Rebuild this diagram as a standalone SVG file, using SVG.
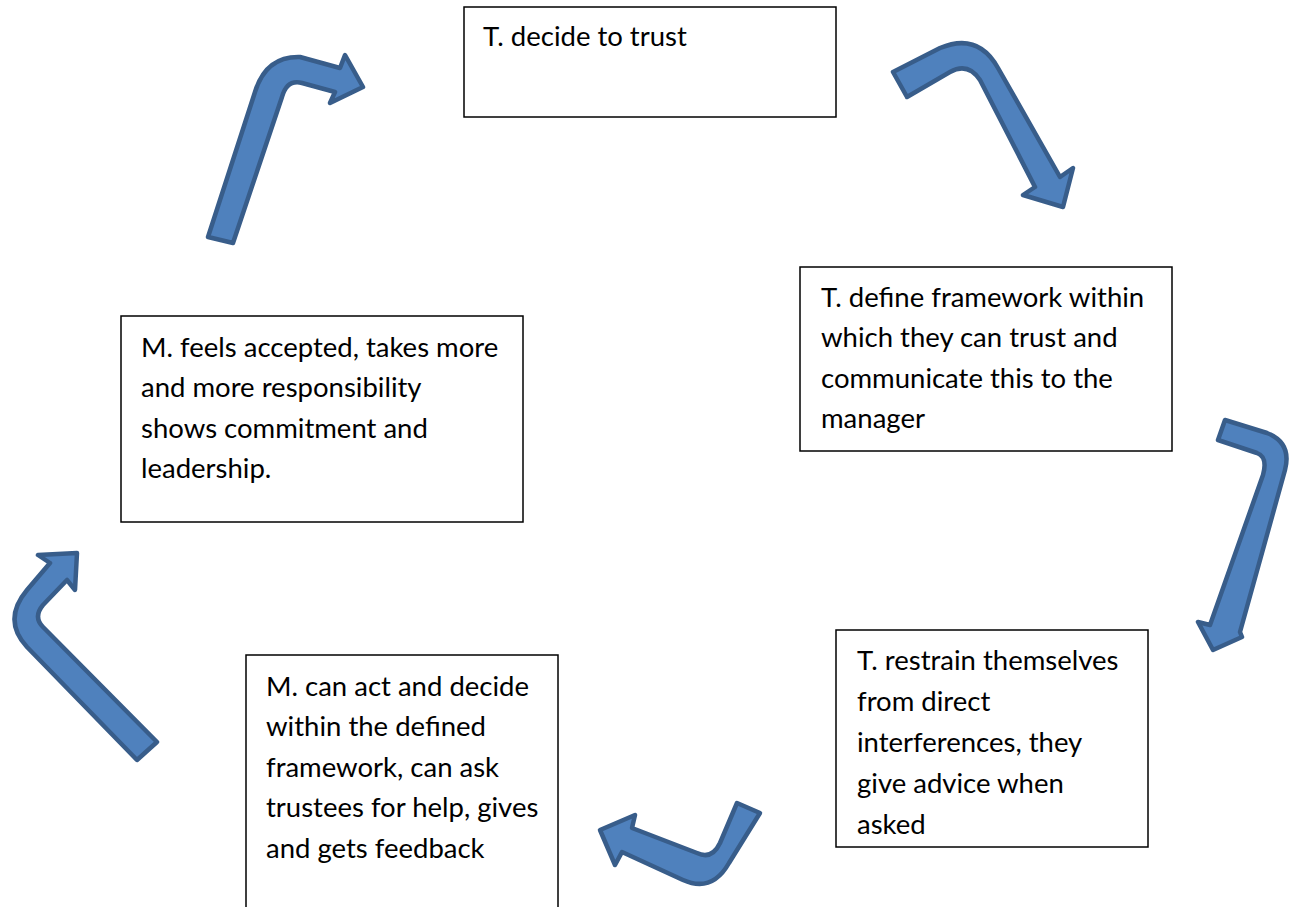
<svg xmlns="http://www.w3.org/2000/svg" width="1291" height="907" viewBox="0 0 1291 907">
<style>
.box{fill:#fff;stroke:#000;stroke-width:1.5}
.t{font-family:Lato,"Open Sans","Liberation Sans",sans-serif;font-size:27.5px;fill:#000}
.arr{fill:#4F81BD;stroke:#385D8A;stroke-width:4.5;stroke-linejoin:round}
</style>
<rect width="1291" height="907" fill="#fff"/>
<g id="connectors">
<path class="arr" d="M208,237 L255,92 Q266,56 300,57 L340,68 L345,55 L363,87 L330,103 L335,92 L302,83 Q287,79 282,97 L233,243 Z"/>
<path class="arr" d="M893,72 L940,48 Q978,32 998,68 L1060,177 L1073,168 L1063,207 L1023,195 L1035,187 L980,80 Q968,62 950,72 L907,97 Z"/>
<path class="arr" d="M1225,420 L1267,433 Q1292,443 1285,470 L1240,632 L1242,637 L1213,650 L1198,622 L1210,625 L1263,475 Q1268,457 1257,453 L1218,440 Z"/>
<path class="arr" d="M760,813 L729,863 Q712,893 683,880 L622,852 L615,865 L600,830 L635,815 L632,828 L697,853 Q712,860 720,843 L737,803 Z"/>
<path class="arr" d="M137,760 L27,647 Q2,620 27,590 L50,563 L38,555 L77,553 L75,590 L67,580 L43,605 Q33,617 43,627 L157,742 Z"/>
</g>
<g id="n1"><rect class="box" x="464" y="7" width="372" height="110"/><text class="t" x="483" y="46">T. decide to trust</text></g>
<g id="n2"><rect class="box" x="800" y="267" width="372" height="184"/>
<text class="t" x="821" y="307">T. define framework within</text>
<text class="t" x="821" y="347">which they can trust and</text>
<text class="t" x="821" y="388">communicate this to the</text>
<text class="t" x="821" y="428">manager</text></g>
<g id="n3"><rect class="box" x="836" y="630" width="312" height="217"/>
<text class="t" x="857" y="670">T. restrain themselves</text>
<text class="t" x="857" y="711">from direct</text>
<text class="t" x="857" y="752">interferences, they</text>
<text class="t" x="857" y="793">give advice when</text>
<text class="t" x="857" y="834">asked</text></g>
<g id="n4"><rect class="box" x="246" y="655" width="312" height="260"/>
<text class="t" x="266" y="696">M. can act and decide</text>
<text class="t" x="266" y="736">within the defined</text>
<text class="t" x="266" y="777">framework, can ask</text>
<text class="t" x="266" y="817">trustees for help, gives</text>
<text class="t" x="266" y="858">and gets feedback</text></g>
<g id="n5"><rect class="box" x="121" y="316" width="402" height="206"/>
<text class="t" x="141" y="357">M. feels accepted, takes more</text>
<text class="t" x="141" y="397">and more responsibility</text>
<text class="t" x="141" y="438">shows commitment and</text>
<text class="t" x="141" y="478">leadership.</text></g>
</svg>
